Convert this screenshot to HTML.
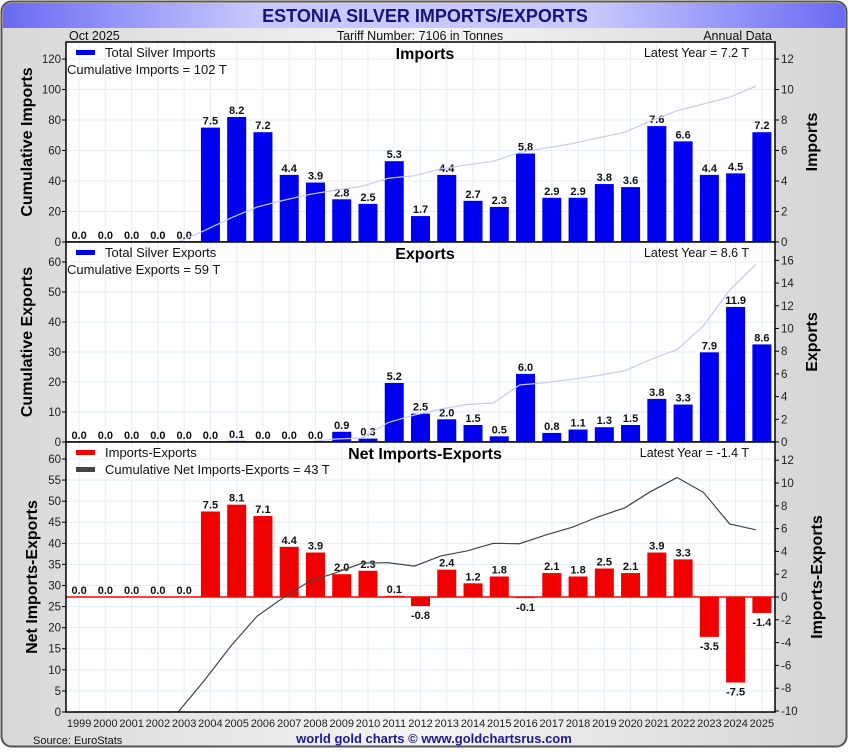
<!DOCTYPE html>
<html><head><meta charset="utf-8"><style>
body{margin:0;width:850px;height:750px;overflow:hidden;background:#fff;font-family:"Liberation Sans",sans-serif}
svg text{font-family:"Liberation Sans",sans-serif}
</style></head><body>
<svg id="c" width="850" height="750" xmlns="http://www.w3.org/2000/svg">
<defs>
<linearGradient id="bg" x1="0" y1="0" x2="1" y2="0"><stop offset="0" stop-color="#d8d8d8"/><stop offset="0.5" stop-color="#f4f4f4"/><stop offset="1" stop-color="#d4d4d4"/></linearGradient>
<linearGradient id="tb" x1="0" y1="0" x2="1" y2="0"><stop offset="0" stop-color="#6a6af2"/><stop offset="0.3" stop-color="#c8c8ff"/><stop offset="0.7" stop-color="#c8c8ff"/><stop offset="1" stop-color="#6a6af2"/></linearGradient>
</defs>
<rect x="1.5" y="1.5" width="845" height="745" rx="10" fill="url(#bg)" stroke="#555" stroke-width="2"/>
<path d="M3 28 V12 Q3 3 12 3 H836 Q845 3 845 12 V28 Z" fill="url(#tb)"/>
<text x="425" y="22" text-anchor="middle" font-size="18" font-weight="bold" fill="#14147a">ESTONIA SILVER IMPORTS/EXPORTS</text>
<text x="69" y="40" font-size="12.5" fill="#111">Oct  2025</text>
<text x="420" y="40" text-anchor="middle" font-size="12.5" fill="#111">Tariff Number: 7106 in Tonnes</text>
<text x="772" y="40" text-anchor="end" font-size="12.5" fill="#111">Annual Data</text>
<text x="33" y="744" font-size="11" fill="#111">Source: EuroStats</text>
<text x="434" y="743" text-anchor="middle" font-size="13" font-weight="bold" fill="#1a1a8a">world gold charts © www.goldchartsrus.com</text>
<g id="g"></g>
</svg>
<script>
const years=[1999,2000,2001,2002,2003,2004,2005,2006,2007,2008,2009,2010,2011,2012,2013,2014,2015,2016,2017,2018,2019,2020,2021,2022,2023,2024,2025];
const imports=[0,0,0,0,0,7.5,8.2,7.2,4.4,3.9,2.8,2.5,5.3,1.7,4.4,2.7,2.3,5.8,2.9,2.9,3.8,3.6,7.6,6.6,4.4,4.5,7.2];
const exportsV=[0,0,0,0,0,0,0.1,0,0,0,0.9,0.3,5.2,2.5,2.0,1.5,0.5,6.0,0.8,1.1,1.3,1.5,3.8,3.3,7.9,11.9,8.6];
const net=[0,0,0,0,0,7.5,8.1,7.1,4.4,3.9,2.0,2.3,0.1,-0.8,2.4,1.2,1.8,-0.1,2.1,1.8,2.5,2.1,3.9,3.3,-3.5,-7.5,-1.4];
const leftTicks1=[0,20,40,60,80,100,120], rightTicks1=[0,2,4,6,8,10,12];
const leftTicks2=[0,10,20,30,40,50,60], rightTicks2=[0,2,4,6,8,10,12,14,16];
const leftTicks3=[0,5,10,15,20,25,30,35,40,45,50,55,60], rightTicks3=[-10,-8,-6,-4,-2,0,2,4,6,8,10,12];
const NS='http://www.w3.org/2000/svg';
const G=document.getElementById('g');
function el(t,a,p){const e=document.createElementNS(NS,t);for(const k in a)e.setAttribute(k,a[k]);(p||G).appendChild(e);return e;}
const X0=66,X1=775,slot=(X1-X0)/years.length;
const xc=i=>X0+slot*(i+0.5);
function cum(a){let s=0;return a.map(v=>s+=v);}
function panel(o){
  const g=el('g',{});
  
  
  const yl=v=>o.bot-(v-o.lmin)*o.ls, yr=v=>o.zero-v*o.rs;
  el('rect',{x:X0,y:o.top,width:X1-X0,height:o.bot-o.top,fill:'#fff'},g);
  years.forEach((y,i)=>{const l=el('line',{x1:xc(i),x2:xc(i),y1:o.top,y2:o.bot,stroke:'#e2eef8'},g);});
  o.lt.forEach(v=>{const y=yl(v);if(y<o.bot-1){const l=el('line',{x1:X0,x2:X1,y1:y,y2:y,stroke:'#e2eef8'},g);}
    const t=el('text',{x:X0-5,y:y+4,'text-anchor':'end','font-size':11.5,fill:'#222'},g);t.textContent=v;
    el('line',{x1:X0-4,x2:X0,y1:y,y2:y,stroke:'#000'},g);});
  o.rt.forEach(v=>{const y=yr(v);const t=el('text',{x:X1+6,y:y+4,'font-size':11.5,fill:'#222'},g);t.textContent=v;
    el('line',{x1:X1,x2:X1+4,y1:y,y2:y,stroke:'#000'},g);});
  const c=cum(o.data);
  o.data.forEach((v,i)=>{const y0=yr(0),y1=yr(v);const b=el('rect',{x:xc(i)-9.5,y:Math.min(y0,y1),width:19,height:Math.abs(y1-y0),fill:o.color},g);
    
    const t=el('text',{x:xc(i),y:v<0?y1+13:y1-3,'text-anchor':'middle','font-size':11,'font-weight':'bold',fill:'#111'},g);t.textContent=v.toFixed(1);});
  if(o.zeroLine){const l=el('line',{x1:X0,x2:X1,y1:yr(0),y2:yr(0),stroke:'#f00','stroke-width':1.5},g);}
  const cp=el('clipPath',{id:'cl'+o.name},g);el('rect',{x:X0,y:o.top,width:X1-X0,height:o.bot-o.top},cp);
  const pts=c.map((v,i)=>(xc(i)-6)+','+yl(v)).join(' ');
  const pl=el('polyline',{points:pts,fill:'none',stroke:o.lineColor,'stroke-width':o.lw,'clip-path':'url(#cl'+o.name+')'},g);
  
  el('rect',{x:X0,y:o.top,width:X1-X0,height:o.bot-o.top,fill:'none',stroke:'#000','stroke-width':1.5},g);
  const tt=el('text',{x:425,y:o.top+17,'text-anchor':'middle','font-size':16,'font-weight':'bold',fill:'#000'},g);tt.textContent=o.title;
  const lt=el('text',{x:749,y:o.top+15,'text-anchor':'end','font-size':12.5,fill:'#111'},g);lt.textContent=o.latest;
  o.legend.forEach((L,k)=>{const yy=o.top+10+k*17;if(L[1]){const s=el('rect',{x:76,y:yy-2,width:19,height:5,fill:L[1]},g);}
    const t=el('text',{x:L[1]?105:67,y:yy+5,'font-size':13,fill:'#111'},g);t.textContent=L[0];});
  const my=(o.top+o.bot)/2;
  const a=el('text',{x:0,y:0,transform:`translate(${o.lx},${my}) rotate(-90)`,'text-anchor':'middle','font-size':16,'font-weight':'bold',fill:'#000'},g);a.textContent=o.ltitle;
  const b=el('text',{x:0,y:0,transform:`translate(${o.rx},${my}) rotate(-90)`,'text-anchor':'middle','font-size':16,'font-weight':'bold',fill:'#000'},g);b.textContent=o.rtitle;
}
panel({name:'imports',top:42,bot:242,lmin:0,ls:1.525,zero:242,rs:15.25,lt:leftTicks1,rt:rightTicks1,data:imports,color:'#0000f0',lineColor:'#c8c8f8',lw:1.2,title:'Imports',latest:'Latest Year = 7.2 T',legend:[['Total Silver Imports','#0000f0'],['Cumulative Imports = 102 T',null]],ltitle:'Cumulative Imports',rtitle:'Imports',lx:32,rx:817});
panel({name:'exports',top:242,bot:442,lmin:0,ls:3.0,zero:442,rs:11.35,lt:leftTicks2,rt:rightTicks2,data:exportsV,color:'#0000f0',lineColor:'#c8c8f8',lw:1.2,title:'Exports',latest:'Latest Year = 8.6 T',legend:[['Total Silver Exports','#0000f0'],['Cumulative Exports = 59 T',null]],ltitle:'Cumulative Exports',rtitle:'Exports',lx:32,rx:817});
panel({name:'net',top:442,bot:712,lmin:0,ls:4.217,zero:597,rs:11.4,lt:leftTicks3,rt:rightTicks3,data:net,color:'#f00000',lineColor:'#444',lw:1.2,zeroLine:true,title:'Net Imports-Exports',latest:'Latest Year = -1.4 T',legend:[['Imports-Exports','#f00000'],['Cumulative Net Imports-Exports = 43 T','#444']],ltitle:'Net Imports-Exports',rtitle:'Imports-Exports',lx:37,rx:822});
years.forEach((y,i)=>{const t=el('text',{x:xc(i),y:727,'text-anchor':'middle','font-size':11,fill:'#222'});t.textContent=y;

});
</script>
</body></html>
